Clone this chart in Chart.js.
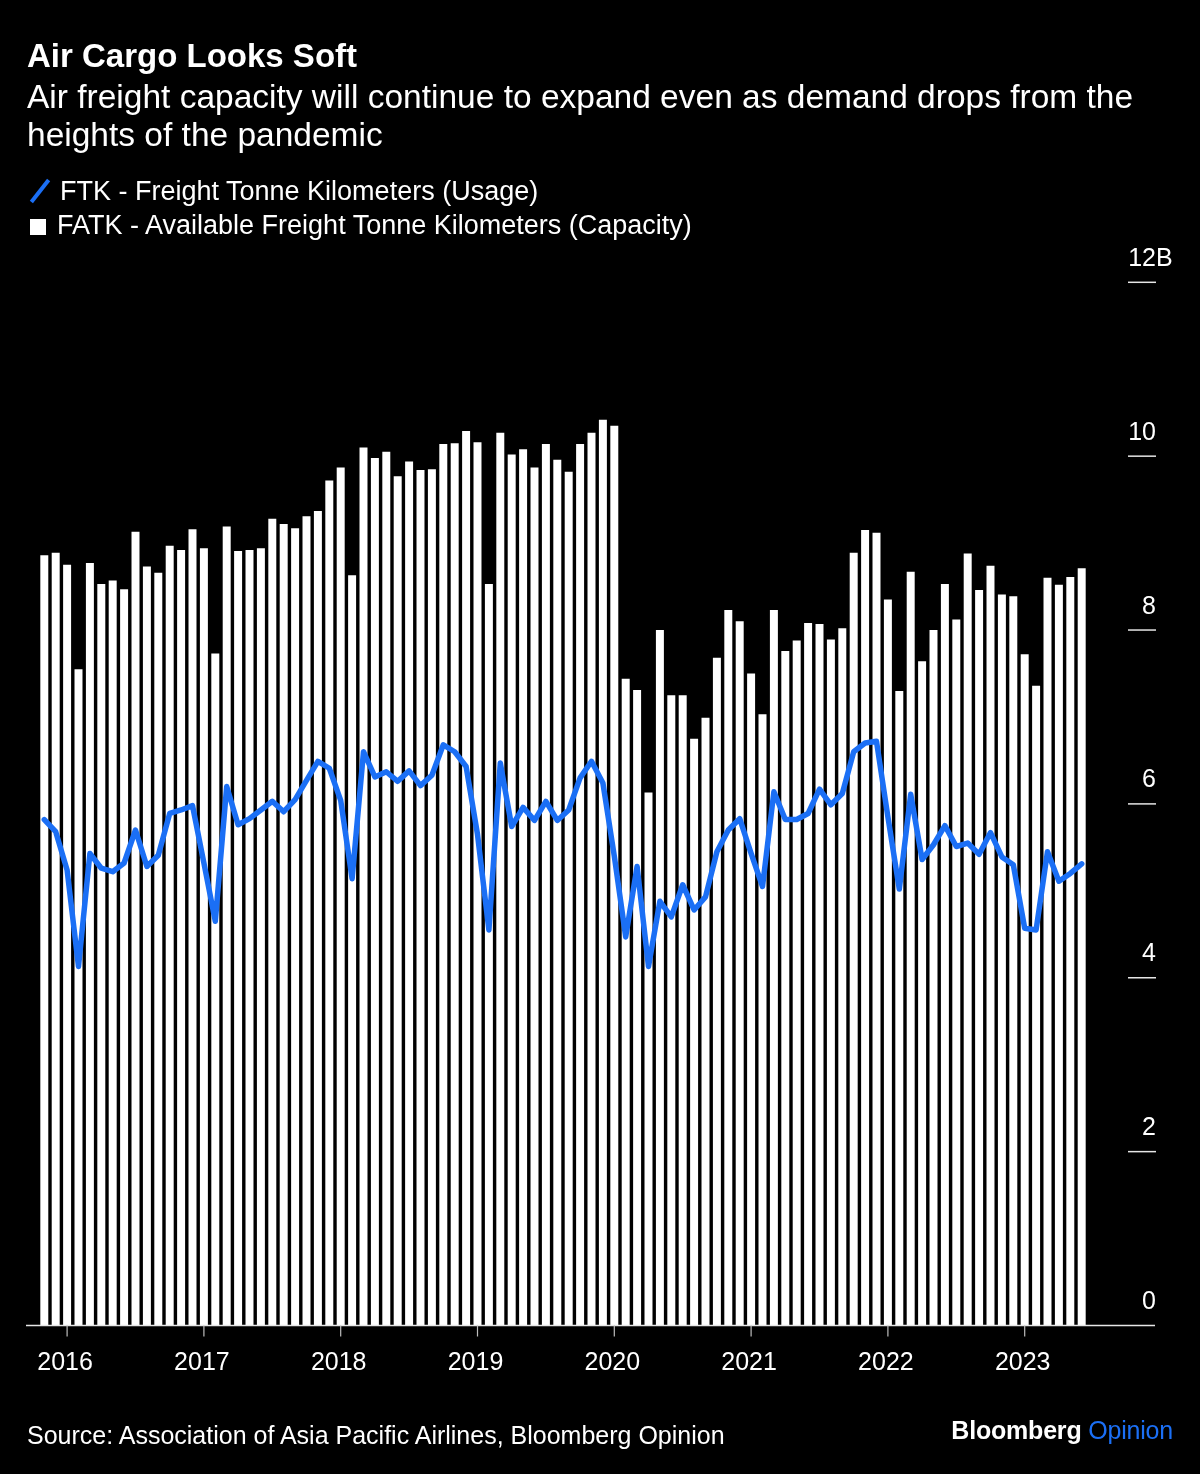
<!DOCTYPE html>
<html>
<head>
<meta charset="utf-8">
<script src="https://cdn.jsdelivr.net/npm/chart.js@4.4.0/dist/chart.umd.min.js"></script>
<style>
  body{margin:0;background:#000;width:1200px;height:1474px;position:relative;overflow:hidden;
       font-family:"Liberation Sans",Arial,sans-serif;color:#fff}
  #c{position:absolute;left:0;top:0}
  .t{position:absolute;white-space:nowrap}
  #title{left:27px;top:37px;font-size:33px;font-weight:bold;line-height:38px}
  #sub{left:27px;top:78px;font-size:33.5px;line-height:38px}
  .lg{left:30px;font-size:27px;line-height:30px}
  .slash{display:inline-block;width:4px;height:28px;background:#1b6ff5;transform:rotate(38deg);
         vertical-align:-5px;margin:0 18px 0 8px}
  .sq{display:inline-block;width:16px;height:16px;background:#fff;margin-right:11px;vertical-align:-1px}
  #src{left:27px;top:1421px;font-size:25px;line-height:28px}
  #brand{right:27px;top:1416px;font-size:25px;line-height:28px;font-weight:bold;letter-spacing:-0.2px}
  #brand span{color:#1b6ff5;font-weight:normal}
</style>
</head>
<body>
<canvas id="c" width="1200" height="1474"></canvas>
<div class="t" id="title">Air Cargo Looks Soft</div>
<div class="t" id="sub">Air freight capacity will continue to expand even as demand drops from the<br>heights of the pandemic</div>
<div class="t lg" style="top:176px"><span class="slash"></span>FTK - Freight Tonne Kilometers (Usage)</div>
<div class="t lg" style="top:210px"><span class="sq"></span>FATK - Available Freight Tonne Kilometers (Capacity)</div>
<div class="t" id="src">Source: Association of Asia Pacific Airlines, Bloomberg Opinion</div>
<div class="t" id="brand">Bloomberg <span>Opinion</span></div>
<script>
// =============================================================
// Data (billions of tonne-km, monthly)
// =============================================================
const months = [
  "Nov 2015","Dec 2015",
  "Jan 2016","Feb 2016","Mar 2016","Apr 2016","May 2016","Jun 2016","Jul 2016","Aug 2016","Sep 2016","Oct 2016","Nov 2016","Dec 2016",
  "Jan 2017","Feb 2017","Mar 2017","Apr 2017","May 2017","Jun 2017","Jul 2017","Aug 2017","Sep 2017","Oct 2017","Nov 2017","Dec 2017",
  "Jan 2018","Feb 2018","Mar 2018","Apr 2018","May 2018","Jun 2018","Jul 2018","Aug 2018","Sep 2018","Oct 2018","Nov 2018","Dec 2018",
  "Jan 2019","Feb 2019","Mar 2019","Apr 2019","May 2019","Jun 2019","Jul 2019","Aug 2019","Sep 2019","Oct 2019","Nov 2019","Dec 2019",
  "Jan 2020","Feb 2020","Mar 2020","Apr 2020","May 2020","Jun 2020","Jul 2020","Aug 2020","Sep 2020","Oct 2020","Nov 2020","Dec 2020",
  "Jan 2021","Feb 2021","Mar 2021","Apr 2021","May 2021","Jun 2021","Jul 2021","Aug 2021","Sep 2021","Oct 2021","Nov 2021","Dec 2021",
  "Jan 2022","Feb 2022","Mar 2022","Apr 2022","May 2022","Jun 2022","Jul 2022","Aug 2022","Sep 2022","Oct 2022","Nov 2022","Dec 2022",
  "Jan 2023","Feb 2023","Mar 2023","Apr 2023","May 2023","Jun 2023"
];

// FATK - capacity (bars)
const fatk = [
  8.86,8.89,
  8.75,7.55,8.77,8.53,8.57,8.47,9.13,8.73,8.66,8.97,8.92,9.16,
  8.94,7.73,9.19,8.91,8.92,8.94,9.28,9.22,9.17,9.31,9.37,9.72,
  9.87,8.63,10.10,9.98,10.05,9.77,9.94,9.84,9.85,10.14,10.15,10.29,
  10.16,8.53,10.27,10.02,10.08,9.87,10.14,9.96,9.82,10.14,10.27,10.42,
  10.35,7.44,7.31,6.13,8.00,7.25,7.25,6.75,6.99,7.68,8.23,8.10,
  7.50,7.03,8.23,7.76,7.88,8.08,8.07,7.89,8.02,8.89,9.15,9.12,
  8.35,7.30,8.67,7.64,8.00,8.53,8.12,8.88,8.46,8.74,8.41,8.39,
  7.72,7.36,8.60,8.52,8.61,8.71
];

// FTK - usage (line)
const ftk = [
  5.82,5.68,
  5.24,4.13,5.43,5.26,5.22,5.32,5.70,5.28,5.41,5.89,5.93,5.98,
  5.32,4.65,6.20,5.76,5.83,5.93,6.03,5.91,6.05,6.27,6.49,6.41,
  6.04,5.14,6.60,6.31,6.37,6.26,6.38,6.21,6.33,6.68,6.60,6.43,
  5.65,4.55,6.47,5.74,5.96,5.81,6.03,5.81,5.93,6.30,6.49,6.24,
  5.40,4.47,5.28,4.13,4.88,4.70,5.07,4.78,4.93,5.45,5.70,5.83,
  5.43,5.05,6.14,5.82,5.82,5.89,6.17,5.99,6.12,6.60,6.70,6.72,
  5.85,5.02,6.11,5.36,5.53,5.75,5.51,5.55,5.42,5.67,5.39,5.30,
  4.57,4.55,5.45,5.11,5.20,5.31
];

const yearLabels = ["2016","2017","2018","2019","2020","2021","2022","2023"];
const yTicks = [0,2,4,6,8,10,12];

// =============================================================
// Axes drawn by hand: baseline, year ticks, right-hand dashes
// =============================================================
const FONT = '25px "Liberation Sans", Arial, sans-serif';
const axisMarks = {
  id:"axisMarks",
  afterDraw(chart){
    const {ctx, scales:{x,y}} = chart;
    const y0 = y.getPixelForValue(0);
    ctx.save();
    ctx.lineWidth = 1.5;
    ctx.strokeStyle = "#e6e6e6";
    ctx.beginPath(); ctx.moveTo(26,y0); ctx.lineTo(1155,y0); ctx.stroke();

    ctx.font = FONT;
    ctx.fillStyle = "#fff";
    ctx.textAlign = "center";
    ctx.textBaseline = "alphabetic";
    ctx.strokeStyle = "#bdbdbd";
    ctx.lineWidth = 1.2;
    for(const yr of yearLabels){
      const px = x.getPixelForValue(months.indexOf("Jan "+yr));
      ctx.beginPath(); ctx.moveTo(px,y0); ctx.lineTo(px,y0+11); ctx.stroke();
      ctx.fillText(yr, px-2, 1370);
    }

    ctx.strokeStyle = "#e6e6e6";
    ctx.lineWidth = 1.5;
    for(const v of yTicks){
      const py = y.getPixelForValue(v);
      if(v!==0){ ctx.beginPath(); ctx.moveTo(1128,py); ctx.lineTo(1156,py); ctx.stroke(); }
      ctx.textAlign = "right";
      ctx.fillText(String(v), 1156, py-16.5);
      if(v===12){ ctx.textAlign="left"; ctx.fillText("B", 1156, py-16.5); }
    }
    ctx.restore();
  }
};

// =============================================================
// Chart
// =============================================================
new Chart(document.getElementById("c"),{
  type:"bar",
  data:{
    labels:months,
    datasets:[
      { type:"line", label:"FTK - Freight Tonne Kilometers (Usage)", data:ftk,
        borderColor:"#1b6ff5", borderWidth:5.5, pointRadius:0, tension:0,
        borderJoinStyle:"round", borderCapStyle:"round", order:0 },
      { type:"bar", label:"FATK - Available Freight Tonne Kilometers (Capacity)", data:fatk,
        backgroundColor:"#ffffff", borderWidth:0, barPercentage:0.7, categoryPercentage:1, order:1 }
    ]
  },
  options:{
    responsive:false, animation:false, events:[],
    layout:{ padding:{ left:38.6, right:112.6, top:282.3, bottom:148.5 } },
    plugins:{ legend:{display:false}, tooltip:{enabled:false} },
    scales:{
      x:{ display:false, offset:true },
      y:{ display:false, min:0, max:12 }
    }
  },
  plugins:[axisMarks]
});
</script>
</body>
</html>
